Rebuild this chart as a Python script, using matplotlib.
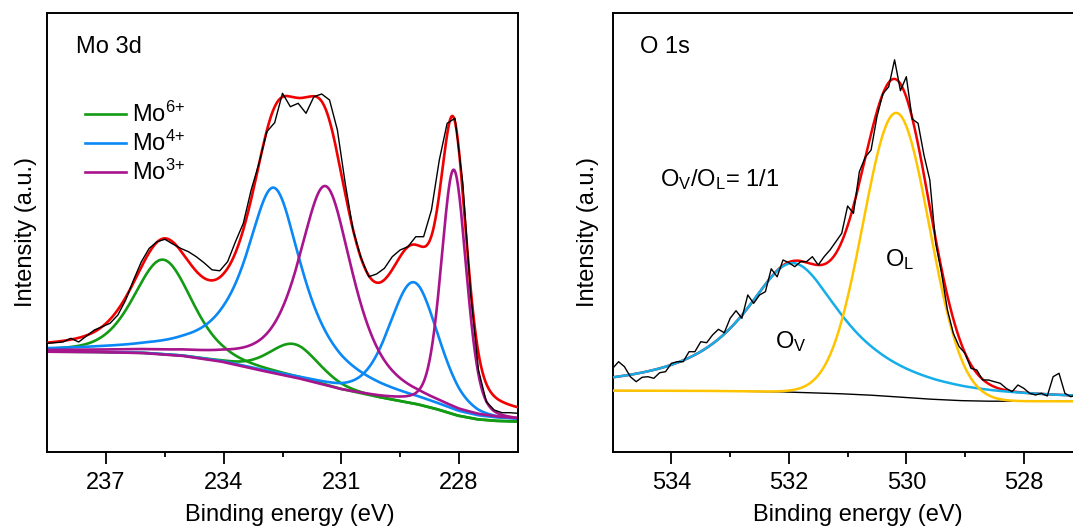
import numpy as np
import matplotlib
matplotlib.use('Agg')
import matplotlib.pyplot as plt

plt.rcParams['font.family'] = ['Liberation Sans', 'DejaVu Sans']
plt.rcParams['mathtext.fontset'] = 'custom'
plt.rcParams['mathtext.rm'] = 'Liberation Sans'
plt.rcParams['mathtext.default'] = 'regular'

# ---- Mo 3d panel ----
# raw spectrum, 0.2 eV steps from 238.5 down to 226.5 eV
mo_energy = np.round(np.arange(238.5, 226.49, -0.2), 2)
mo_counts = [108.5, 109.1, 109.8, 113.5, 109.8, 115.8, 121.8, 125.1, 128.5, 136.8,
             151.8, 171.8, 190.1, 203.5, 210.1, 212.5, 207.8, 203.5, 200.1, 195.1,
             189.0, 182.0, 181.0, 190.1, 210.1, 228.5, 261.8, 288.5, 320.1, 329.1,
             358.5, 345.1, 348.5, 338.5, 355.1, 357.8, 351.8, 321.8, 268.5, 221.8,
             194.3, 175.1, 177.8, 183.5, 195.1, 201.8, 205.1, 215.1, 215.1, 241.8,
             291.8, 328.5, 333.5, 268.5, 158.5, 81.8, 50.1, 41.8, 39.1, 39.1, 38.5]

# Shirley background
mo_bg_energy = [226.5, 227.0, 227.5, 228.0, 228.5, 229.0, 230.0, 231.0, 232.0, 233.0,
                234.0, 235.0, 236.0, 237.0, 238.5]
mo_bg_counts = [30.0, 30.5, 32.0, 35.5, 41.5, 46.5, 53.5, 61.5, 72.0, 80.5,
                89.5, 95.5, 98.5, 99.5, 100.0]

# fitted components
mo_state = ['Mo6+', 'Mo6+', 'Mo4+', 'Mo4+', 'Mo3+', 'Mo3+']
mo_center = [235.55, 232.20, 232.72, 229.15, 231.40, 228.13]
mo_height = [95, 34, 186, 122, 200, 245]
mo_fwhm = [1.75, 1.50, 1.74, 1.50, 1.65, 0.76]
mo_eta = [0.4, 0.3, 0.9, 0.35, 0.7, 0.3]

# ---- O 1s panel ----
o_energy = np.round(np.arange(535.0, 526.95, -0.1), 2)
o_counts = [83.5, 90.1, 85.1, 75.1, 70.1, 74.5, 75.1, 73.5, 79.1, 80.1,
            88.5, 90.1, 90.1, 100.1, 100.1, 110.1, 109.1, 116.8, 122.5, 119.1,
            133.5, 141.1, 133.5, 156.8, 148.5, 156.8, 160.1, 183.0, 175.0, 191.8,
            189.1, 185.1, 190.1, 190.1, 195.1, 186.8, 195.1, 201.8, 210.1, 218.5,
            245.8, 238.5, 280.1, 294.5, 301.8, 335.1, 358.0, 365.0, 392.0, 361.1,
            375.1, 332.8, 328.5, 296.8, 271.8, 208.5, 178.5, 141.8, 118.5, 105.1,
            98.5, 83.5, 81.8, 71.8, 71.8, 70.1, 68.5, 63.5, 60.1, 66.8,
            63.5, 58.5, 56.8, 58.5, 55.8, 75.1, 78.5, 58.5, 55.1, 56.8, 56.8]

o_bg_energy = [527.0, 528.5, 529.0, 529.5, 530.0, 530.5, 531.0, 531.5, 532.0, 533.0, 535.0]
o_bg_counts = [50.5, 50.5, 51.0, 52.3, 54.2, 56.3, 57.8, 58.8, 59.8, 60.8, 61.2]

o_names = ['OV', 'OL']
o_center = [531.93, 530.17]
o_height = [129, 284]
o_fwhm = [2.08, 1.33]
o_eta = [1.0, 0.0]

colors = {'Mo6+': '#139b13', 'Mo4+': '#0a88f5', 'Mo3+': '#a8148c',
          'OV': '#14aee8', 'OL': '#ffc400'}

FS = 17


def pvoigt(x, c, h, w, eta):
    g = np.exp(-4 * np.log(2) * ((x - c) / w) ** 2)
    l = 1.0 / (1.0 + 4 * ((x - c) / w) ** 2)
    return h * (eta * l + (1 - eta) * g)


fig = plt.figure(figsize=(10.73, 5.27), dpi=100)
ax1 = fig.add_axes([47.3 / 1073, 75.2 / 527, 470.4 / 1073, 439.3 / 527])
ax2 = fig.add_axes([612.7 / 1073, 75.2 / 527, 469.8 / 1073, 439.3 / 527])

# Mo 3d
xs = np.linspace(226.5, 238.5, 1201)
bg = np.interp(xs, mo_bg_energy, mo_bg_counts)
envelope = bg.copy()
handles = {}
for st, c, h, w, e in zip(mo_state, mo_center, mo_height, mo_fwhm, mo_eta):
    peak = pvoigt(xs, c, h, w, e)
    envelope += peak
    ln, = ax1.plot(xs, bg + peak, color=colors[st], lw=1.9, zorder=2)
    handles.setdefault(st, ln)
ax1.plot(xs, envelope, color='#f00000', lw=1.9, zorder=3)
ax1.plot(mo_energy, mo_counts, color='black', lw=1.0, zorder=4)

ax1.legend([handles['Mo6+'], handles['Mo4+'], handles['Mo3+']],
           [r'Mo$^{6{+}}$', r'Mo$^{4{+}}$', r'Mo$^{3{+}}$'],
           loc='center left', bbox_to_anchor=(0.056, 0.7015), frameon=False,
           fontsize=FS, handlelength=1.72, handletextpad=0.25,
           labelspacing=0.16, borderpad=0.0)
ax1.text(0.062, 0.921, 'Mo 3d', transform=ax1.transAxes, fontsize=FS,
         ha='left', va='center')
ax1.set_xlim(238.5, 226.5)
ax1.set_xticks([237, 234, 231, 228])
ax1.set_xticks([235.5, 232.5, 229.5], minor=True)

# O 1s
xo = np.linspace(527.0, 535.0, 801)
bgo = np.interp(xo, o_bg_energy, o_bg_counts)
env_o = bgo.copy()
comps = []
for c, h, w, e in zip(o_center, o_height, o_fwhm, o_eta):
    peak = pvoigt(xo, c, h, w, e)
    env_o += peak
    comps.append(bgo + peak)
ax2.plot(xo, bgo, color='black', lw=1.0, zorder=2)
ax2.plot(xo, env_o, color='#f00000', lw=1.8, zorder=2)
for nm, comp in zip(o_names, comps):
    ax2.plot(xo, comp, color=colors[nm], lw=1.8, zorder=3)
ax2.plot(o_energy, o_counts, color='black', lw=1.0, zorder=4)

ax2.text(0.058, 0.921, 'O 1s', transform=ax2.transAxes, fontsize=FS,
         ha='left', va='center')
ax2.text(0.101, 0.619, r'O$_\mathregular{V}$/O$_\mathregular{L}$= 1/1',
         transform=ax2.transAxes, fontsize=FS, ha='left', va='center')
ax2.text(530.37, 192.5, r'O$_\mathregular{L}$', fontsize=FS, ha='left', va='center')
ax2.text(532.24, 110.0, r'O$_\mathregular{V}$', fontsize=FS, ha='left', va='center')
ax2.set_xlim(535.0, 527.0)
ax2.set_xticks([534, 532, 530, 528])
ax2.set_xticks([533, 531, 529, 527], minor=True)

for ax, lx in ((ax1, 0.515), (ax2, 0.522)):
    ax.set_ylim(0, 439.3)
    ax.set_yticks([])
    for s in ax.spines.values():
        s.set_linewidth(1.4)
    ax.tick_params(axis='x', which='major', direction='out', length=8.4, width=1.3,
                   labelsize=FS, pad=6.5)
    ax.tick_params(axis='x', which='minor', direction='out', length=3.6, width=1.3)
    ax.set_xlabel('Binding energy (eV)', fontsize=FS)
    ax.set_ylabel('Intensity (a.u.)', fontsize=FS)
    ax.xaxis.set_label_coords(lx, -0.118)
ax1.yaxis.set_label_coords(-0.0225, 0.5)
ax2.yaxis.set_label_coords(-0.029, 0.5)

fig.savefig('out.png', dpi=100)
plt.close(fig)
